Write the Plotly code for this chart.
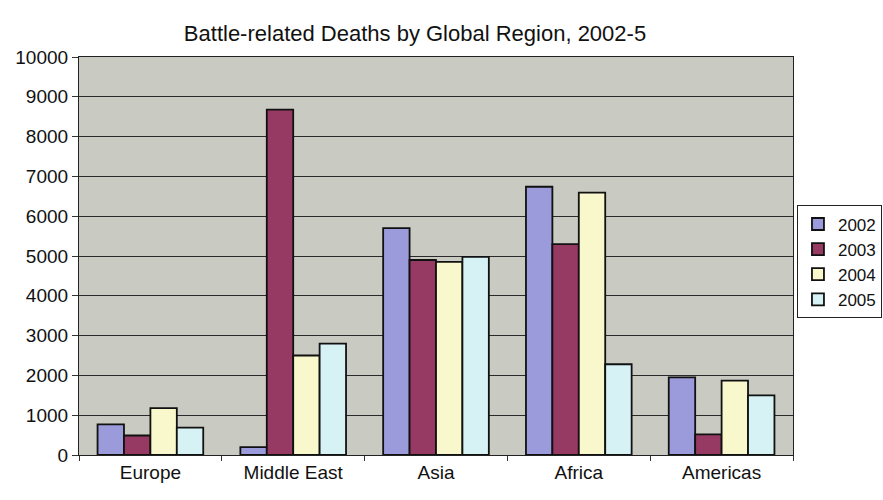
import plotly.graph_objects as go

regions = ["Europe", "Middle East", "Asia", "Africa", "Americas"]
years = ["2002", "2003", "2004", "2005"]
deaths_2002 = [770, 200, 5700, 6740, 1950]
deaths_2003 = [490, 8680, 4900, 5300, 520]
deaths_2004 = [1180, 2500, 4850, 6590, 1870]
deaths_2005 = [690, 2800, 4980, 2280, 1500]
series = [deaths_2002, deaths_2003, deaths_2004, deaths_2005]
colors = ["#9b9bdb", "#973a63", "#f8f8cc", "#d6f2f4"]

fig = go.Figure()
for yr, vals, col in zip(years, series, colors):
    fig.add_trace(go.Bar(
        x=regions, y=vals, name=yr,
        marker=dict(color=col, line=dict(color="#111111", width=1.8)),
    ))

font_family = "Liberation Sans, Arial, sans-serif"
fig.update_layout(
    width=883, height=500,
    margin=dict(l=79, r=90, t=57, b=45, autoexpand=False),
    paper_bgcolor="white",
    plot_bgcolor="#c9cac2",
    barmode="group", bargap=0.26, bargroupgap=0,
    title=dict(text="Battle-related Deaths by Global Region, 2002-5",
               x=0.47, xanchor="center", y=0.934, yanchor="middle",
               font=dict(family=font_family, size=22, color="#111111")),
    font=dict(family=font_family, size=19, color="#111111"),
    legend=dict(x=1.1246, y=0.485, xanchor="right", yanchor="middle",
                bgcolor="white", bordercolor="#222222", borderwidth=1,
                font=dict(size=17), tracegroupgap=0, itemwidth=30),
    showlegend=True,
)
fig.update_xaxes(
    tickson="boundaries", ticks="outside", ticklen=5, tickcolor="#333333",
    showline=True, linecolor="#222222", linewidth=1.2, mirror=True,
    showgrid=False, tickfont=dict(size=19),
)
fig.update_yaxes(
    range=[0, 10000], dtick=1000, tickformat="d",
    ticks="outside", ticklen=6, tickcolor="#333333",
    showline=True, linecolor="#222222", linewidth=1.2, mirror=True,
    showgrid=True, gridcolor="#2a2a2a", gridwidth=1,
    tickfont=dict(size=19), zeroline=False,
)
fig.write_html("out.html")
